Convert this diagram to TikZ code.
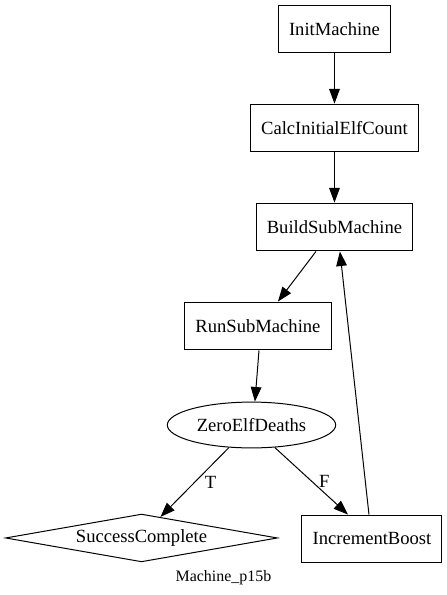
\documentclass[tikz,border=0pt]{standalone}
\usepackage{fontspec}
\setmainfont{Liberation Serif}
\usetikzlibrary{arrows.meta, shapes.geometric}
\definecolor{lcol}{HTML}{000000}

\begin{document}
\begin{tikzpicture}[>={Triangle[length=11pt, width=8pt]},
  every node/.style={font=\fontsize{14}{17}\selectfont, text=lcol},
  procbox/.style={draw=lcol, line width=0.75pt, rectangle, inner xsep=8pt, inner ysep=0pt, minimum height=36pt},
  testell/.style={draw=lcol, line width=0.75pt, ellipse, inner sep=0pt, minimum width=126.75pt, minimum height=34.5pt},
  donedia/.style={draw=lcol, line width=0.75pt, diamond, aspect=5.7, inner sep=0pt, minimum width=204.75pt, minimum height=36pt},
  flow/.style={->, draw=lcol, line width=0.75pt}]
\useasboundingbox (0.000,0.000) rectangle (11.827,-15.743);
% states
\node[procbox] (init) at (8.850,-0.767) {InitMachine};
\node[procbox] (calc) at (8.850,-3.387) {CalcInitialElfCount};
\node[procbox] (build) at (8.850,-6.006) {BuildSubMachine};
\node[procbox] (run) at (6.826,-8.625) {RunSubMachine};
\node[testell] (zero) at (6.654,-11.245) {ZeroElfDeaths};
\node[donedia] (success) at (3.744,-14.234) {SuccessComplete};
\node[procbox] (incr) at (9.842,-14.261) {IncrementBoost};
\node[font=\fontsize{12}{14}\selectfont] (title) at (5.913,-15.293) {Machine\_p15b};
% transitions
\draw[flow] (init) -- (calc);
\draw[flow] (calc) -- (build);
\draw[flow] ([xshift=-13.9pt]build.south) -- ([xshift=15pt]run.north);
\draw[flow] ([xshift=0.75pt]run.south) -- ([xshift=2.6pt]zero.north);
\draw[flow] (zero.225) -- node[midway, right=4pt] {T} (success.48);
\draw[flow] (zero.-44) -- node[midway, right=2pt] {F} ([xshift=-18pt]incr.north);
\draw[flow] ([xshift=-2.25pt]incr.north) -- ([xshift=4.1pt]build.south);
\end{tikzpicture}
\end{document}
